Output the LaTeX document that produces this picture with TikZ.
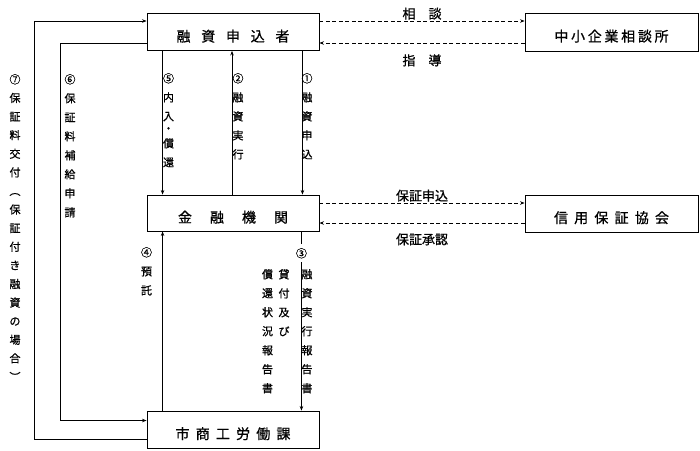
\documentclass[tikz,border=0pt]{standalone}
\usepackage{fontspec}
\setmainfont{Noto Sans CJK JP}[FakeBold=0.8]
\usetikzlibrary{arrows.meta}

\begin{document}
\begin{tikzpicture}[x=1pt, y=-1pt,
        box/.style={draw, line width=0.9pt, minimum width=172pt, minimum height=37pt, inner sep=0pt,
            text height=20pt, text depth=1pt, font=\fontsize{14}{16}\selectfont},
        flow/.style={line width=0.7pt, -{Stealth[length=4.5pt, width=3.5pt]}},
        dashline/.style={flow, dash pattern=on 4pt off 2.5pt},
        vlabel/.style={anchor=north, align=center, inner sep=0pt, font=\fontsize{11}{19}\selectfont},
        hlabel/.style={inner sep=1pt, font=\fontsize{13}{15}\selectfont}]
        \useasboundingbox (0, 0) rectangle (700, 450);

        \node[box] (applicant) at (233, 32) {融\hspace{10.75pt}資\hspace{10.75pt}申\hspace{10.75pt}込\hspace{10.75pt}者};
        \node[box, minimum height=36pt] (bank) at (233, 213) {金\hspace{18pt}融\hspace{18pt}機\hspace{18pt}関};
        \node[box] (city) at (233, 429.5) {市\hspace{6.2pt}商\hspace{6.2pt}工\hspace{6.2pt}労\hspace{6.2pt}働\hspace{6.2pt}課};
        \node[box, minimum width=173pt, minimum height=38pt] (consult) at (611.5, 32) {中\hspace{2.7pt}小\hspace{2.7pt}企\hspace{2.7pt}業\hspace{2.7pt}相\hspace{2.7pt}談\hspace{2.7pt}所};
        \node[box, minimum width=173pt] (guarantee) at (611.5, 213.5) {信\hspace{6.2pt}用\hspace{6.2pt}保\hspace{6.2pt}証\hspace{6.2pt}協\hspace{6.2pt}会};

        % dashed exchanges to the right
        \draw[dashline] ([yshift=11pt]applicant.east) -- node[hlabel, midway, above] {相　談} ([yshift=11pt]applicant.east -| consult.west);
        \draw[dashline] ([yshift=-11pt]applicant.east -| consult.west) -- node[hlabel, midway, below, yshift=-10pt] {指　導} ([yshift=-11pt]applicant.east);
        \draw[dashline] ([yshift=10pt]bank.east) -- node[hlabel, midway, above] {保証申込} ([yshift=10pt]bank.east -| guarantee.west);
        \draw[dashline] ([yshift=-10pt]bank.east -| guarantee.west) -- node[hlabel, midway, below, yshift=-9pt] {保証承認} ([yshift=-10pt]bank.east);

        % applicant <-> bank
        \draw[flow] ([xshift=16pt]applicant.south west) -- ([xshift=16pt]bank.north west);
        \draw[flow] ([xshift=-1pt]bank.north) -- ([xshift=-1pt]applicant.south);
        \draw[flow] ([xshift=-17pt]applicant.south east) -- ([xshift=-17pt]bank.north east);

        % bank <-> city
        \draw[flow] ([xshift=16pt]city.north west) -- ([xshift=16pt]bank.south west);
        \draw[flow] ([xshift=-18pt]bank.south east) -- node[pos=0.122, fill=white, inner xsep=1pt, inner ysep=4pt, font=\fontsize{11}{13}\selectfont] (n3) {③} ([xshift=-18pt]city.north east);

        % outer loops on the left
        \draw[flow] ([yshift=-11pt]applicant.west) -- ++(-86, 0) |- ([yshift=9pt]city.west);
        \draw[flow] ([yshift=-10pt]city.west) -- ++(-112, 0) |- ([yshift=11pt]applicant.west);

        \node[vlabel, font=\fontsize{11}{18.6}\selectfont] (lab7) at (15, 74) {⑦\\保\\証\\料\\交\\付\\︵\\保\\証\\付\\き\\融\\資\\の\\場\\合\\︶};
        \node[vlabel] (lab6) at (70, 74) {⑥\\保\\証\\料\\補\\給\\申\\請};
        \node[vlabel] (lab5) at (168.5, 73) {⑤\\内\\入\\[-7pt]・\\[-4pt]償\\還};
        \node[vlabel] (lab2) at (238, 73) {②\\融\\資\\実\\行};
        \node[vlabel] (lab1) at (307, 73) {①\\融\\資\\申\\込};
        \node[vlabel] (lab4) at (146.5, 247) {④\\預\\託};
        \node[vlabel] (lab3a) at (307, 269) {融\\資\\実\\行\\報\\告\\書};
        \node[vlabel] (lab3b) at (284, 269) {貸\\付\\及\\び};
        \node[vlabel] (lab3c) at (267.5, 269) {償\\還\\状\\況\\報\\告\\書};
    \end{tikzpicture}
\end{document}
